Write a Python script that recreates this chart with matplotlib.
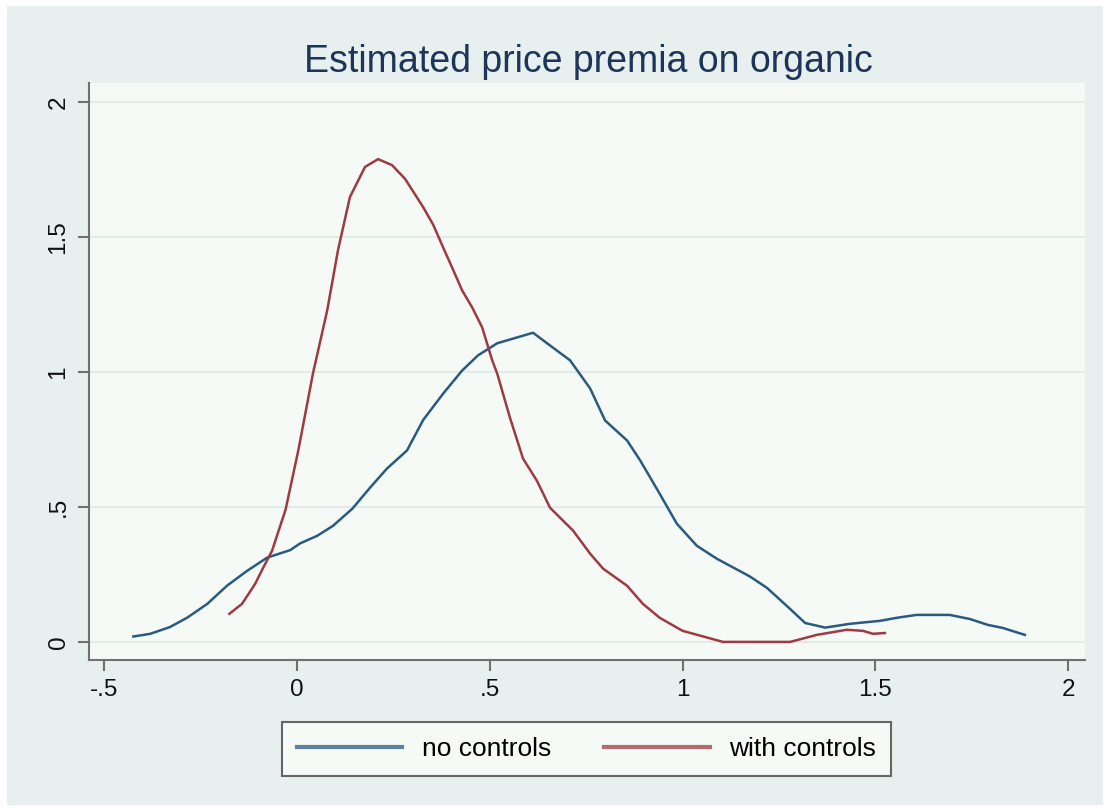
import matplotlib
matplotlib.use("Agg")
import matplotlib.pyplot as plt
from matplotlib.patches import Rectangle

plt.rcParams["font.family"] = ["Liberation Sans", "DejaVu Sans"]

# kernel density estimates
no_ctrl_x = [-0.425, -0.381, -0.33, -0.285, -0.233, -0.182, -0.130, -0.078, -0.018, 0.008,
             0.052, 0.093, 0.143, 0.189, 0.233, 0.285, 0.327, 0.379, 0.428,
             0.469, 0.519, 0.612, 0.656, 0.708, 0.760, 0.799, 0.856, 0.890, 0.936,
             0.985, 1.037, 1.089, 1.175, 1.219, 1.279, 1.318, 1.370, 1.434, 1.512,
             1.559, 1.607, 1.693, 1.745, 1.792, 1.830, 1.888]
no_ctrl_y = [0.020, 0.030, 0.055, 0.090, 0.141, 0.208, 0.263, 0.312, 0.340, 0.365,
             0.393, 0.430, 0.493, 0.571, 0.642, 0.709, 0.822, 0.920, 1.005,
             1.061, 1.106, 1.145, 1.098, 1.043, 0.939, 0.820, 0.746, 0.672, 0.560,
             0.438, 0.356, 0.308, 0.242, 0.200, 0.122, 0.070, 0.053, 0.067, 0.078,
             0.090, 0.100, 0.100, 0.085, 0.063, 0.052, 0.026]

ctrl_x = [-0.176, -0.143, -0.109, -0.088, -0.065, -0.030, 0.003, 0.041, 0.078, 0.106,
          0.137, 0.176, 0.210, 0.246, 0.280, 0.327, 0.353, 0.379, 0.405, 0.428,
          0.454, 0.480, 0.506, 0.519, 0.552, 0.586, 0.622, 0.656, 0.716, 0.760,
          0.794, 0.856, 0.897, 0.941, 1.000, 1.105, 1.279, 1.348, 1.426, 1.468,
          1.494, 1.525]
ctrl_y = [0.104, 0.141, 0.215, 0.275, 0.338, 0.490, 0.709, 0.994, 1.228, 1.451,
          1.648, 1.759, 1.788, 1.766, 1.715, 1.610, 1.545, 1.460, 1.377, 1.302,
          1.239, 1.165, 1.043, 0.994, 0.831, 0.679, 0.597, 0.497, 0.412, 0.327,
          0.271, 0.208, 0.141, 0.089, 0.041, 0.000, 0.000, 0.026, 0.045, 0.041,
          0.030, 0.033]

x_ticks = [-0.5, 0, 0.5, 1, 1.5, 2]
x_labels = ["-.5", "0", ".5", "1", "1.5", "2"]
y_ticks = [0, 0.5, 1, 1.5, 2]
y_labels = ["0", ".5", "1", "1.5", "2"]

W, H = 1109, 811
fig = plt.figure(figsize=(W / 100, H / 100), dpi=100, facecolor="white")
fig.patches.append(Rectangle((7 / W, 6 / H), 1096 / W, 799 / H,
                             transform=fig.transFigure, facecolor="#e8f0ef",
                             edgecolor="none", zorder=-10))

ax = fig.add_axes([89 / W, 1 - 660 / H, 996 / W, 577 / H])
ax.set_facecolor("#f5faf7")

blue = "#2b5a7f"
red = "#9e3a42"
ax.plot(no_ctrl_x, no_ctrl_y, color=blue, lw=1.8, label="no controls")
ax.plot(ctrl_x, ctrl_y, color=red, lw=1.8, label="with controls")

ax.set_xlim(-0.54, 2.044)
ax.set_ylim(-0.067, 2.07)
ax.set_xticks(x_ticks)
ax.set_xticklabels(x_labels)
ax.set_yticks(y_ticks)
ax.set_yticklabels(y_labels, rotation=90, va="center")

ax.grid(axis="y", color="#e1ece9", lw=1.5)
ax.set_axisbelow(True)
for side in ["top", "right"]:
    ax.spines[side].set_visible(False)
for side in ["left", "bottom"]:
    ax.spines[side].set_color("#707070")
    ax.spines[side].set_linewidth(1.5)
ax.tick_params(direction="out", length=8, width=1.5, color="#707070",
               labelsize=17.5, labelcolor="#111111", pad=6)

fig.text(588 / W, 1 - 62 / H, "Estimated price premia on organic",
         ha="center", va="center", fontsize=27, color="#1c3558")

leg = fig.legend(loc="center", bbox_to_anchor=(586.5 / W, 1 - 749 / H), ncol=2,
                 fontsize=19, handlelength=4.0, handletextpad=0.75,
                 columnspacing=2.0, borderpad=0.55, fancybox=False,
                 frameon=True)
leg.get_frame().set_facecolor("#f5faf7")
leg.get_frame().set_edgecolor("#666666")
leg.get_frame().set_linewidth(1.5)
leg.get_frame().set_alpha(1)
for line in leg.get_lines():
    line.set_linewidth(3)
    line.set_alpha(0.75)

fig.savefig("out.png", dpi=100, facecolor="white")
